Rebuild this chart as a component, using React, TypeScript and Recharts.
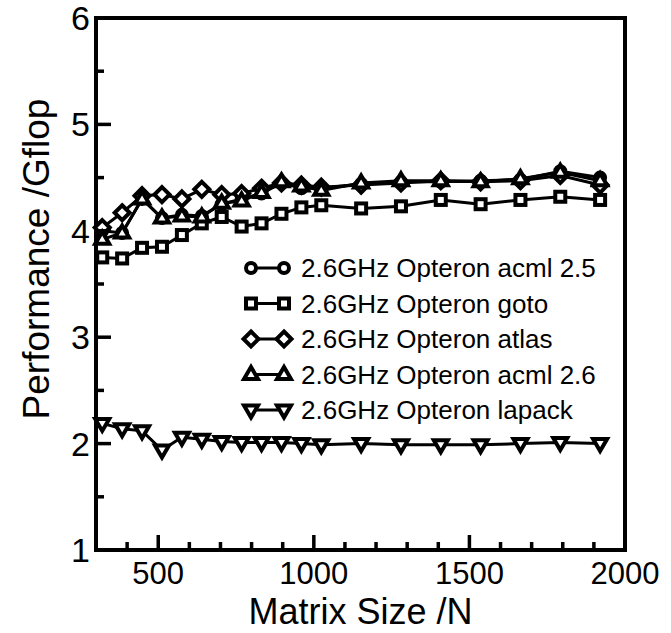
import React from "react";
import { ComposedChart, Line, XAxis, YAxis, ReferenceArea, Legend } from "recharts";

// matrix sizes (N) measured
const sizes = [320, 384, 448, 512, 576, 640, 704, 768, 832, 896, 960, 1024, 1152, 1280, 1408, 1536, 1664, 1792, 1920];

// performance in Gflop
const acml25 = [4.0, 3.98, 4.3, 4.12, 4.15, 4.14, 4.25, 4.3, 4.35, 4.45, 4.4, 4.4, 4.44, 4.46, 4.46, 4.47, 4.48, 4.56, 4.5];
const gotoBlas = [3.75, 3.74, 3.84, 3.85, 3.96, 4.07, 4.13, 4.04, 4.07, 4.16, 4.22, 4.24, 4.21, 4.23, 4.29, 4.25, 4.29, 4.32, 4.29];
const atlas = [4.03, 4.17, 4.33, 4.34, 4.3, 4.39, 4.34, 4.35, 4.4, 4.45, 4.43, 4.41, 4.43, 4.45, 4.47, 4.46, 4.47, 4.52, 4.43];
const acml26 = [3.92, 3.98, 4.3, 4.12, 4.14, 4.13, 4.26, 4.28, 4.36, 4.46, 4.42, 4.38, 4.45, 4.47, 4.47, 4.46, 4.49, 4.55, 4.47];
const lapack = [2.19, 2.14, 2.12, 1.94, 2.06, 2.04, 2.02, 2.01, 2.01, 2.01, 2.0, 1.99, 2.0, 1.99, 1.99, 1.99, 2.0, 2.01, 2.0];

const xTicks = [400, 500, 600, 700, 800, 900, 1000, 1100, 1200, 1300, 1400, 1500, 1600, 1700, 1800, 1900, 2000];
const xLabels = [500, 1000, 1500, 2000];
const yTicks = [1, 1.5, 2, 2.5, 3, 3.5, 4, 4.5, 5, 5.5, 6];
const yLabels = [1, 2, 3, 4, 5, 6];

type Shape = "circle" | "square" | "diamond" | "up" | "down";

const series: { key: string; name: string; shape: Shape }[] = [
  { key: "acml25", name: "2.6GHz Opteron acml 2.5", shape: "circle" },
  { key: "goto", name: "2.6GHz Opteron goto", shape: "square" },
  { key: "atlas", name: "2.6GHz Opteron atlas", shape: "diamond" },
  { key: "acml26", name: "2.6GHz Opteron acml 2.6", shape: "up" },
  { key: "lapack", name: "2.6GHz Opteron lapack", shape: "down" },
];

const data = sizes.map((n, i) => ({
  n,
  acml25: acml25[i],
  goto: gotoBlas[i],
  atlas: atlas[i],
  acml26: acml26[i],
  lapack: lapack[i],
}));

const FONT = '"Liberation Sans", Arial, Helvetica, sans-serif';
const MAJOR = 15;
const MINOR = 8;

function Marker({ cx, cy, shape }: { cx: number; cy: number; shape: Shape }) {
  const st = { fill: "#fff", stroke: "#000", strokeWidth: 4 };
  if (cx == null || cy == null) return null;
  switch (shape) {
    case "circle":
      return <circle cx={cx} cy={cy} r={5} {...st} />;
    case "square":
      return <rect x={cx - 5} y={cy - 5} width={10} height={10} {...st} />;
    case "diamond":
      return <polygon points={`${cx},${cy - 7.5} ${cx + 7.5},${cy} ${cx},${cy + 7.5} ${cx - 7.5},${cy}`} {...st} />;
    case "up":
      return <polygon points={`${cx},${cy - 7.5} ${cx + 7},${cy + 4.5} ${cx - 7},${cy + 4.5}`} {...st} />;
    default:
      return <polygon points={`${cx - 7},${cy - 4.5} ${cx + 7},${cy - 4.5} ${cx},${cy + 7.5}`} {...st} />;
  }
}

const dotFor = (shape: Shape) => (p: any) => <Marker key={`${shape}-${p.index}`} cx={p.cx} cy={p.cy} shape={shape} />;

function XTick({ x, y, payload }: any) {
  const major = xLabels.includes(payload.value);
  return (
    <g>
      <line x1={x} x2={x} y1={y} y2={y - (major ? MAJOR : MINOR)} stroke="#000" strokeWidth={3.5} />
      {major && (
        <text x={x} y={y + 34} textAnchor="middle" fontSize={31} fontFamily={FONT} fill="#000">
          {payload.value}
        </text>
      )}
    </g>
  );
}

function YTick({ x, y, payload }: any) {
  const major = yLabels.includes(payload.value);
  return (
    <g>
      <line x1={x} x2={x + (major ? MAJOR : MINOR)} y1={y} y2={y} stroke="#000" strokeWidth={3.5} />
      {major && (
        <text x={x - 6} y={y} textAnchor="end" dominantBaseline="central" fontSize={34} fontFamily={FONT} fill="#000">
          {payload.value}
        </text>
      )}
    </g>
  );
}

function RightTick({ x, y, payload }: any) {
  const major = yLabels.includes(payload.value);
  return <line x1={x} x2={x - (major ? MAJOR : MINOR)} y1={y} y2={y} stroke="#000" strokeWidth={3.5} />;
}

function LegendBox() {
  return (
    <svg width={390} height={180}>
      {series.map((s, i) => {
        const cy = 18 + i * 35.5;
        return (
          <g key={s.key}>
            <line x1={11} x2={44} y1={cy} y2={cy} stroke="#000" strokeWidth={3} />
            <Marker cx={11} cy={cy} shape={s.shape} />
            <Marker cx={44} cy={cy} shape={s.shape} />
            <text x={61} y={cy} dominantBaseline="central" fontSize={26} fontFamily={FONT} fill="#000">
              {s.name}
            </text>
          </g>
        );
      })}
    </svg>
  );
}

export default function App() {
  return (
    <div style={{ position: "absolute", left: 0, top: 0, width: 671, height: 633, background: "#fff" }}>
      <ComposedChart width={671} height={633} data={data} margin={{ top: 18, right: 46, bottom: 0, left: 0 }}>
        <XAxis
          xAxisId="x"
          dataKey="n"
          type="number"
          domain={[300, 2000]}
          ticks={xTicks}
          interval={0}
          height={83}
          axisLine={false}
          tickLine={false}
          tickSize={0}
          tickMargin={0}
          tick={<XTick />}
          label={(p: any) => {
            const vb = p.viewBox;
            return (
              <text x={vb.x + vb.width / 2} y={vb.y + 74} textAnchor="middle" fontSize={36} fontFamily={FONT} fill="#000">
                Matrix Size /N
              </text>
            );
          }}
        />
        <YAxis
          yAxisId="y"
          type="number"
          domain={[1, 6]}
          ticks={yTicks}
          interval={0}
          width={96}
          axisLine={false}
          tickLine={false}
          tickSize={0}
          tickMargin={0}
          tick={<YTick />}
          label={(p: any) => {
            const vb = p.viewBox;
            const cy = vb.y + vb.height / 2 - 25;
            return (
              <text x={36} y={cy} transform={`rotate(-90 36 ${cy})`} textAnchor="middle" dominantBaseline="central" fontSize={37} fontFamily={FONT} fill="#000">
                Performance /Gflop
              </text>
            );
          }}
        />
        <YAxis
          yAxisId="r"
          orientation="right"
          type="number"
          domain={[1, 6]}
          ticks={yTicks}
          interval={0}
          width={0}
          axisLine={false}
          tickLine={false}
          tickSize={0}
          tickMargin={0}
          tick={<RightTick />}
        />
        <ReferenceArea xAxisId="x" yAxisId="y" x1={300} x2={2000} y1={1} y2={6} fill="none" stroke="#000" strokeWidth={4} ifOverflow="visible" />
        {series.map((s) => (
          <Line
            key={s.key}
            xAxisId="x"
            yAxisId="y"
            dataKey={s.key}
            name={s.name}
            type="linear"
            stroke="#000"
            strokeWidth={3}
            dot={dotFor(s.shape)}
            activeDot={false}
            isAnimationActive={false}
          />
        ))}
        <Legend
          layout="vertical"
          align="center"
          verticalAlign="middle"
          content={() => <LegendBox />}
          wrapperStyle={{ position: "absolute", left: 240, top: 250, width: 390, height: 180 }}
        />
      </ComposedChart>
    </div>
  );
}
